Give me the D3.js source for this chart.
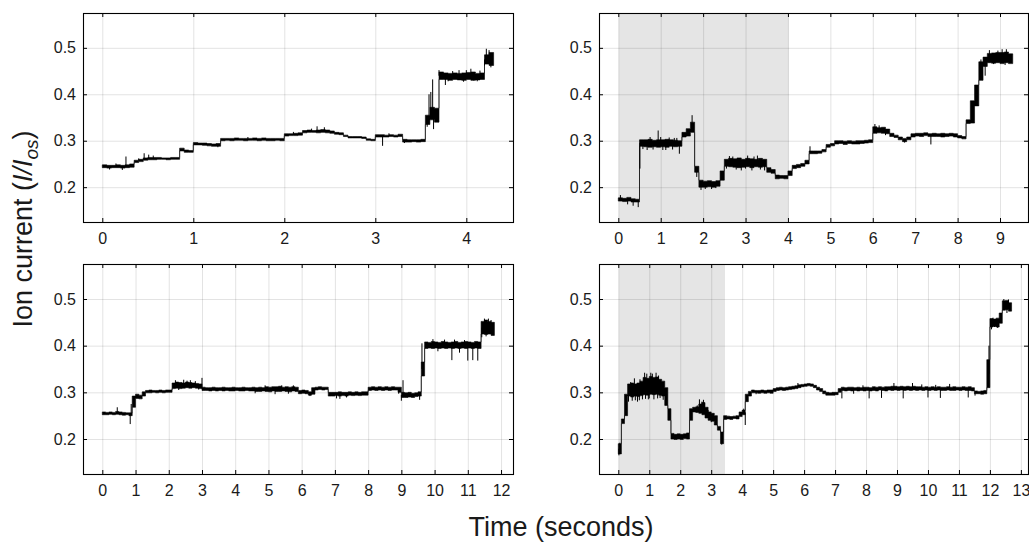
<!DOCTYPE html>
<html>
<head>
<meta charset="utf-8">
<script src="https://cdn.jsdelivr.net/npm/d3@7"></script>
<style>
	html, body { margin: 0; padding: 0; background: #fff; }
	svg { display: block; font-family: "Liberation Sans", Arial, Helvetica, sans-serif; }
</style>
</head>
<body>
<svg id="chart" width="1029" height="543"></svg>
<script>
	'use strict';

	// axis limits and ticks
	var yLim = [0.125, 0.575];
	var yTicks = [0.2, 0.3, 0.4, 0.5];

	var xLim1 = [-0.212, 4.513];
	var xLim2 = [-0.455, 9.66];
	var xLim3 = [-0.581, 12.36];
	var xLim4 = [-0.623, 13.23];

	var xTicks1 = [0, 1, 2, 3, 4];
	var xTicks2 = [0, 1, 2, 3, 4, 5, 6, 7, 8, 9];
	var xTicks3 = [0, 1, 2, 3, 4, 5, 6, 7, 8, 9, 10, 11, 12];
	var xTicks4 = [0, 1, 2, 3, 4, 5, 6, 7, 8, 9, 10, 11, 12, 13];

	// shaded time windows (seconds)
	var shade2 = [0, 4];
	var shade4 = [0, 3.43];

	// traces: [min, max] of the noise band (I/Ios) per time bin of stepN seconds,
	// plus isolated spikes as [time, value]
	var step1 = 0.05;
	var trace1 = [
		[.242,.248],[.241,.247],[.242,.247],[.242,.248],[.241,.247],
		[.242,.248],[.243,.250],[.253,.258],[.255,.260],[.258,.263],
		[.259,.264],[.259,.264],[.260,.264],[.260,.263],[.259,.263],
		[.260,.264],[.260,.264],[.278,.284],[.275,.280],[.275,.279],
		[.291,.296],[.291,.295],[.290,.295],[.289,.294],[.288,.293],
		[.288,.294],[.300,.305],[.301,.305],[.300,.305],[.301,.306],
		[.301,.305],[.300,.305],[.301,.305],[.301,.306],[.300,.305],
		[.301,.306],[.300,.305],[.300,.305],[.301,.305],[.300,.305],
		[.310,.315],[.311,.315],[.311,.316],[.312,.317],[.317,.322],
		[.318,.323],[.318,.322],[.317,.323],[.318,.324],[.317,.323],
		[.316,.321],[.314,.318],[.313,.317],[.309,.312],[.306,.309],
		[.306,.309],[.306,.309],[.305,.308],[.301,.304],[.300,.303],
		[.308,.313],[.308,.313],[.308,.312],[.309,.313],[.308,.312],
		[.309,.314],[.297,.303],[.297,.302],[.298,.302],[.297,.302],
		[.298,.303],[.335,.355],[.345,.372],[.340,.370],[.432,.448],
		[.432,.446],[.430,.445],[.432,.446],[.431,.445],[.430,.446],
		[.432,.447],[.430,.448],[.431,.445],[.432,.446],[.465,.485],
		[.462,.490]
	];
	var spikes1 = [
		[0.08,.238],[0.15,.251],[0.22,.237],[0.26,.266],[0.40,.262],[0.46,.273],
		[0.51,.270],[0.56,.268],[1.27,.286],[1.60,.308],[2.10,.319],[2.30,.326],
		[2.36,.331],[2.44,.329],[3.08,.289],[3.15,.316],[3.32,.295],[3.57,.330],
		[3.59,.400],[3.61,.405],[3.63,.432],[3.64,.325],[3.70,.452],[3.77,.420],
		[3.80,.428],[3.85,.450],[3.92,.452],[3.97,.427],[4.00,.452],[4.05,.455],
		[4.08,.430],[4.12,.428],[4.15,.451],[4.20,.462],[4.22,.498],[4.25,.495],
		[4.27,.458]
	];

	var step2 = 0.1;
	var trace2 = [
		[.170,.177],[.169,.176],[.170,.178],[.168,.175],[.168,.174],
		[.288,.302],[.287,.302],[.286,.303],[.287,.301],[.286,.302],
		[.287,.302],[.286,.303],[.288,.302],[.287,.301],[.288,.300],
		[.308,.318],[.310,.326],[.318,.340],[.232,.245],[.200,.215],
		[.200,.213],[.201,.214],[.200,.212],[.202,.214],[.215,.235],
		[.245,.260],[.244,.262],[.243,.261],[.242,.263],[.243,.260],
		[.244,.262],[.242,.261],[.244,.260],[.243,.262],[.244,.260],
		[.232,.242],[.230,.238],[.218,.226],[.219,.225],[.218,.225],
		[.225,.235],[.240,.247],[.242,.249],[.245,.251],[.250,.258],
		[.272,.278],[.272,.278],[.273,.278],[.276,.281],[.286,.292],
		[.289,.294],[.293,.300],[.294,.300],[.292,.299],[.294,.300],
		[.293,.299],[.293,.300],[.294,.300],[.295,.301],[.296,.302],
		[.316,.330],[.317,.328],[.316,.329],[.315,.325],[.309,.316],
		[.307,.312],[.302,.308],[.298,.305],[.302,.308],[.308,.315],
		[.310,.316],[.309,.316],[.311,.317],[.309,.315],[.309,.316],
		[.309,.315],[.308,.316],[.309,.315],[.310,.316],[.308,.315],
		[.306,.311],[.304,.309],[.337,.345],[.338,.386],[.375,.420],
		[.430,.470],[.460,.480],[.468,.488],[.467,.489],[.468,.490],
		[.466,.490],[.468,.491],[.466,.487]
	];
	var spikes2 = [
		[0.05,.183],[0.22,.163],[0.35,.160],[0.47,.157],[0.51,.240],[0.58,.282],
		[0.68,.280],[0.75,.308],[0.82,.281],[0.94,.322],[1.00,.308],[1.05,.280],
		[1.12,.280],[1.20,.307],[1.28,.281],[1.32,.306],[1.38,.306],[1.44,.272],
		[1.74,.355],[1.85,.222],[1.95,.194],[2.05,.196],[2.20,.196],[2.30,.198],
		[2.55,.240],[2.62,.267],[2.70,.266],[2.78,.238],[2.90,.236],[3.00,.240],
		[3.05,.268],[3.15,.236],[3.20,.266],[3.28,.268],[3.35,.238],[3.45,.236],
		[4.52,.288],[6.05,.336],[6.15,.333],[6.30,.312],[6.75,.296],[7.37,.292],
		[8.55,.475],[8.65,.440],[8.75,.495],[8.85,.465],[8.95,.494],[9.05,.497],
		[9.12,.463],[9.15,.497]
	];

	var step3 = 0.1;
	var trace3 = [
		[.252,.258],[.252,.257],[.253,.258],[.252,.257],[.253,.259],
		[.252,.258],[.251,.257],[.252,.256],[.250,.256],[.268,.292],
		[.287,.296],[.286,.294],[.292,.301],[.299,.304],[.299,.305],
		[.300,.304],[.299,.304],[.300,.305],[.299,.304],[.300,.305],
		[.300,.305],[.308,.320],[.309,.322],[.308,.321],[.309,.320],
		[.310,.322],[.309,.321],[.310,.320],[.309,.319],[.308,.318],
		[.304,.311],[.304,.310],[.303,.310],[.304,.311],[.303,.310],
		[.304,.310],[.303,.311],[.304,.310],[.303,.310],[.303,.311],
		[.304,.310],[.303,.310],[.303,.311],[.304,.310],[.303,.310],
		[.303,.311],[.302,.310],[.302,.311],[.303,.310],[.302,.312],
		[.301,.311],[.303,.312],[.302,.312],[.302,.313],[.303,.311],
		[.302,.312],[.301,.311],[.303,.312],[.302,.311],[.297,.304],
		[.298,.305],[.297,.304],[.294,.301],[.296,.310],[.305,.311],
		[.306,.312],[.305,.311],[.306,.311],[.292,.300],[.292,.300],
		[.293,.300],[.292,.301],[.293,.300],[.292,.300],[.294,.301],
		[.293,.300],[.294,.301],[.293,.300],[.294,.301],[.294,.301],
		[.304,.311],[.305,.312],[.304,.311],[.305,.312],[.304,.311],
		[.305,.312],[.304,.311],[.305,.312],[.305,.311],[.300,.311],
		[.289,.300],[.289,.299],[.290,.300],[.289,.298],[.291,.299],
		[.292,.301],[.335,.365],[.394,.408],[.395,.407],[.394,.409],
		[.395,.408],[.394,.407],[.395,.409],[.394,.408],[.395,.407],
		[.394,.408],[.395,.409],[.394,.407],[.395,.408],[.394,.409],
		[.395,.408],[.394,.407],[.395,.409],[.394,.408],[.425,.452],
		[.424,.455],[.425,.452],[.422,.450]
	];
	var spikes3 = [
		[0.45,.268],[0.84,.232],[0.87,.275],[2.20,.326],[2.30,.305],[2.45,.327],
		[2.55,.325],[2.65,.326],[2.80,.324],[2.90,.306],[3.00,.331],[4.60,.298],
		[4.90,.315],[5.20,.296],[5.40,.315],[5.60,.297],[5.75,.315],[6.25,.292],
		[7.05,.287],[7.15,.286],[7.35,.289],[8.92,.297],[9.00,.282],[9.05,.326],
		[9.55,.284],[9.62,.405],[9.95,.414],[10.10,.388],[10.30,.413],[10.52,.369],
		[10.60,.413],[10.75,.385],[10.90,.412],[11.00,.368],[11.15,.369],[11.30,.368],
		[11.42,.418],[11.50,.458],[11.55,.420],[11.62,.458],[11.70,.455]
	];

	var step4 = 0.1;
	var trace4 = [
		[.168,.190],[.233,.243],[.250,.296],[.292,.318],[.290,.320],
		[.292,.318],[.291,.320],[.293,.324],[.295,.332],[.294,.330],
		[.296,.334],[.295,.332],[.296,.333],[.294,.328],[.292,.324],
		[.272,.310],[.240,.265],[.200,.212],[.199,.210],[.200,.211],
		[.199,.210],[.201,.211],[.200,.213],[.240,.265],[.258,.268],
		[.257,.269],[.255,.275],[.252,.278],[.245,.268],[.240,.258],
		[.238,.255],[.230,.250],[.219,.227],[.190,.215],[.242,.250],
		[.243,.249],[.242,.248],[.244,.249],[.243,.250],[.248,.258],
		[.252,.262],[.280,.296],[.292,.302],[.299,.305],[.299,.304],
		[.298,.304],[.299,.305],[.298,.304],[.299,.305],[.298,.305],
		[.302,.308],[.304,.310],[.305,.311],[.304,.310],[.305,.311],
		[.306,.312],[.307,.313],[.308,.314],[.310,.316],[.312,.317],
		[.313,.318],[.314,.319],[.313,.318],[.310,.315],[.305,.311],
		[.302,.308],[.297,.303],[.294,.300],[.294,.299],[.294,.300],
		[.295,.300],[.300,.308],[.304,.311],[.303,.310],[.304,.311],
		[.303,.311],[.304,.310],[.303,.311],[.304,.310],[.303,.311],
		[.304,.311],[.303,.310],[.304,.312],[.303,.311],[.305,.312],
		[.304,.311],[.303,.312],[.305,.312],[.304,.313],[.305,.313],
		[.304,.312],[.305,.313],[.304,.312],[.305,.313],[.304,.312],
		[.305,.313],[.304,.312],[.305,.312],[.304,.311],[.305,.312],
		[.304,.311],[.305,.312],[.304,.311],[.305,.312],[.304,.311],
		[.304,.311],[.305,.312],[.304,.311],[.304,.312],[.305,.311],
		[.304,.311],[.305,.312],[.304,.311],[.304,.312],[.303,.310],
		[.297,.303],[.297,.302],[.296,.303],[.297,.304],[.310,.370],
		[.440,.458],[.441,.457],[.440,.459],[.448,.470],[.476,.496],
		[.477,.497],[.474,.492]
	];
	var spikes4 = [
		[0.02,.165],[0.05,.192],[0.33,.280],[0.40,.322],[0.45,.282],[0.52,.330],
		[0.55,.283],[0.62,.280],[0.68,.283],[0.70,.328],[0.78,.285],[0.85,.342],
		[0.88,.286],[0.92,.340],[0.97,.285],[1.00,.287],[1.05,.342],[1.10,.340],
		[1.15,.285],[1.22,.342],[1.27,.287],[1.30,.336],[1.35,.288],[1.45,.284],
		[2.55,.272],[2.62,.285],[2.70,.280],[2.75,.284],[2.85,.250],[2.90,.262],
		[3.00,.236],[3.34,.188],[4.05,.265],[4.10,.230],[4.45,.296],[5.80,.320],
		[7.22,.287],[7.60,.297],[7.90,.315],[8.10,.287],[8.50,.288],[8.90,.320],
		[9.20,.287],[9.50,.320],[9.80,.317],[10.00,.289],[10.25,.316],[10.40,.288],
		[10.70,.318],[11.30,.289],[11.52,.293],[11.97,.400],[12.05,.435],[12.10,.460],
		[12.15,.440],[12.25,.438],[12.35,.470],[12.45,.500],[12.50,.490],[12.55,.470],
		[12.60,.499]
	];

	var panels = [
		{left: 83, top: 13, width: 430, height: 209, xLim: xLim1, xTicks: xTicks1, trace: trace1, spikes: spikes1, step: step1, shade: null},
		{left: 599, top: 13, width: 429, height: 209, xLim: xLim2, xTicks: xTicks2, trace: trace2, spikes: spikes2, step: step2, shade: shade2},
		{left: 83, top: 264, width: 430, height: 210, xLim: xLim3, xTicks: xTicks3, trace: trace3, spikes: spikes3, step: step3, shade: null},
		{left: 599, top: 264, width: 429, height: 210, xLim: xLim4, xTicks: xTicks4, trace: trace4, spikes: spikes4, step: step4, shade: shade4}
	];

	var svg = d3.select('#chart');

	function binPoints(trace, step) {
		var pts = trace.map(function(b, i) {
			return {t: i * step, lo: b[0], hi: b[1]};
		});
		var last = trace[trace.length - 1];
		pts.push({t: trace.length * step, lo: last[0], hi: last[1]});
		return pts;
	}

	panels.forEach(function(p) {
		var x = d3.scaleLinear().domain(p.xLim).range([0, p.width]);
		var y = d3.scaleLinear().domain(yLim).range([p.height, 0]);

		var g = svg.append('g')
			.attr('transform', 'translate(' + p.left + ',' + p.top + ')');

		if (p.shade) {
			g.append('rect')
				.attr('x', x(p.shade[0]) + 0.5)
				.attr('y', 0.5)
				.attr('width', x(p.shade[1]) - x(p.shade[0]))
				.attr('height', p.height)
				.attr('fill', '#e5e5e5');
		}

		// grid
		var gx = g.append('g')
			.call(d3.axisBottom(x).tickValues(p.xTicks).tickSize(p.height).tickFormat(''));
		var gy = g.append('g')
			.call(d3.axisLeft(y).tickValues(yTicks).tickSize(-p.width).tickFormat(''));
		[gx, gy].forEach(function(sel) {
			sel.select('.domain').remove();
			sel.selectAll('line').attr('stroke', 'rgba(38,38,38,0.13)');
		});

		// noise band
		var band = d3.area()
			.curve(d3.curveStepAfter)
			.x(function(d) { return x(d.t); })
			.y0(function(d) { return y(d.lo); })
			.y1(function(d) { return y(d.hi); });

		g.append('path')
			.datum(binPoints(p.trace, p.step))
			.attr('fill', '#000')
			.attr('stroke', '#000')
			.attr('stroke-width', 0.6)
			.attr('stroke-linejoin', 'round')
			.attr('d', band);

		// isolated spikes, drawn from the band centre
		g.append('g').selectAll('line')
			.data(p.spikes)
			.enter().append('line')
			.attr('x1', function(d) { return x(d[0]); })
			.attr('x2', function(d) { return x(d[0]); })
			.attr('y1', function(d) {
				var b = p.trace[Math.min(p.trace.length - 1, Math.floor(d[0] / p.step))];
				return y((b[0] + b[1]) / 2);
			})
			.attr('y2', function(d) { return y(d[1]); })
			.attr('stroke', '#000')
			.attr('stroke-width', 1);

		// box
		g.append('rect')
			.attr('x', 0.5)
			.attr('y', 0.5)
			.attr('width', p.width)
			.attr('height', p.height)
			.attr('fill', 'none')
			.attr('stroke', '#000')
			.attr('stroke-width', 1.1);

		// inward ticks on all four sides
		var axes = [
			g.append('g').attr('transform', 'translate(0,' + p.height + ')')
				.call(d3.axisBottom(x).tickValues(p.xTicks).tickSize(-4).tickPadding(11).tickFormat(d3.format('d'))),
			g.append('g')
				.call(d3.axisTop(x).tickValues(p.xTicks).tickSize(-4).tickFormat('')),
			g.append('g')
				.call(d3.axisLeft(y).tickValues(yTicks).tickSize(-4).tickPadding(7).tickFormat(d3.format('.1f'))),
			g.append('g').attr('transform', 'translate(' + p.width + ',0)')
				.call(d3.axisRight(y).tickValues(yTicks).tickSize(-4).tickFormat(''))
		];
		axes.forEach(function(a) {
			a.select('.domain').remove();
			a.selectAll('line').attr('stroke', '#000');
			a.selectAll('text')
				.attr('fill', '#1a1a1a')
				.style('font-size', '16px')
				.style('font-family', '"Liberation Sans", Arial, Helvetica, sans-serif');
		});
	});

	// shared axis labels
	svg.append('text')
		.attr('x', 561)
		.attr('y', 536)
		.attr('text-anchor', 'middle')
		.attr('fill', '#1a1a1a')
		.style('font-size', '27px')
		.text('Time (seconds)');

	var yLabel = svg.append('text')
		.attr('transform', 'translate(32,229) rotate(-90)')
		.attr('text-anchor', 'middle')
		.attr('fill', '#1a1a1a')
		.style('font-size', '27px');
	yLabel.append('tspan').text('Ion current (');
	yLabel.append('tspan').style('font-style', 'italic').text('I/I');
	yLabel.append('tspan').style('font-style', 'italic').style('font-size', '19px')
		.attr('dy', 6).text('os');
	yLabel.append('tspan').attr('dy', -6).text(')');
</script>
</body>
</html>
